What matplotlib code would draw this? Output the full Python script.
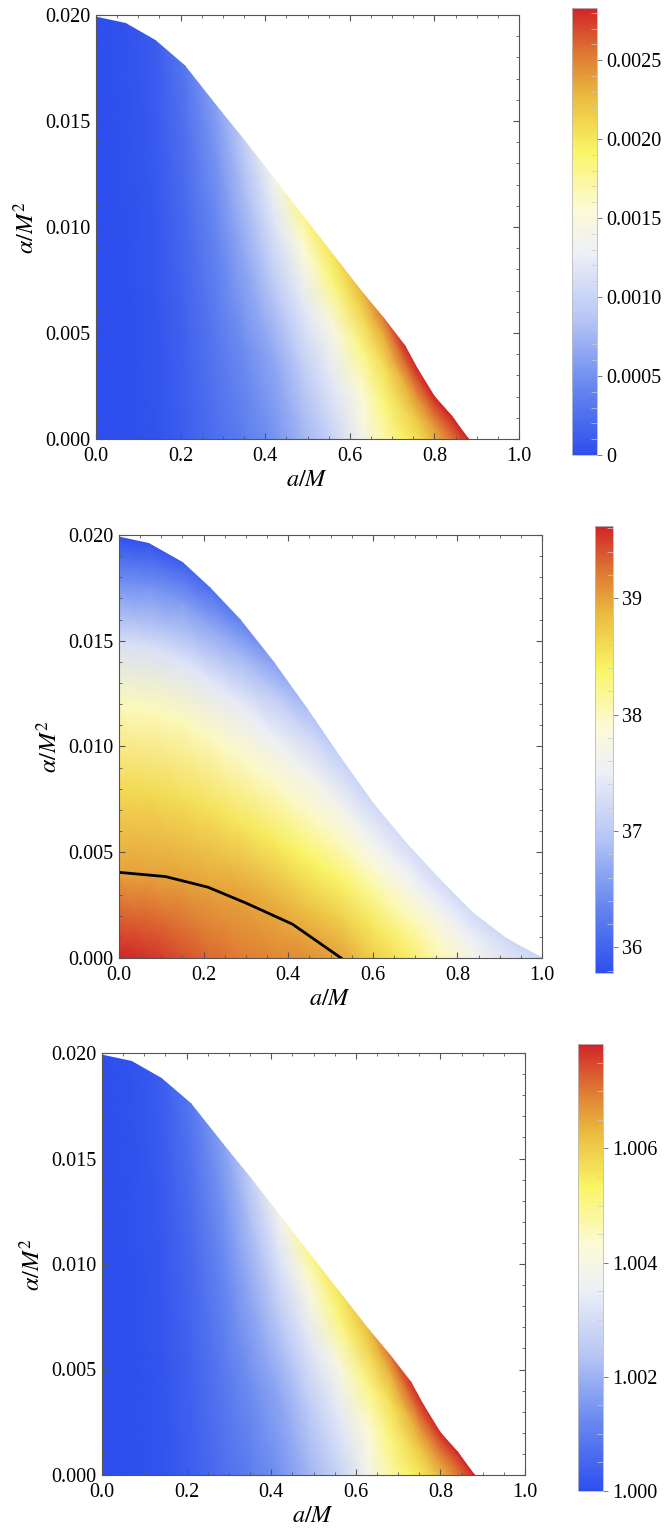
import numpy as np
import matplotlib

matplotlib.use("Agg")
import matplotlib.pyplot as plt  # noqa: E402
from matplotlib.colors import LinearSegmentedColormap  # noqa: E402
from matplotlib.ticker import MultipleLocator, FormatStrFormatter  # noqa: E402

plt.rcParams["font.family"] = "Liberation Serif"
plt.rcParams["mathtext.fontset"] = "stix"

W, H = 667, 1537

# ---- allowed region for panels 1 and 3: spin and largest alpha/M^2 there ----
spin_edge = [0.0, 0.07, 0.14, 0.21, 0.285, 0.35, 0.42, 0.49, 0.56, 0.63,
             0.68, 0.73, 0.76, 0.80, 0.84, 0.88]
alpha_edge = [0.0199, 0.0196, 0.0188, 0.0176, 0.0157, 0.0141, 0.0123, 0.0105,
              0.0087, 0.0069, 0.0057, 0.0044, 0.0033, 0.0020, 0.0011, 0.0]
# fraction of the way from alpha = 0 up to the edge
frac_13 = [0.0, 0.3, 0.6, 0.85, 1.0]

# panel 1 values (units of 1e-3), one row per spin_edge entry
dev_top = [
    [0.00, 0.00, 0.00, 0.00, 0.00],
    [0.01, 0.01, 0.02, 0.03, 0.03],
    [0.04, 0.05, 0.07, 0.09, 0.10],
    [0.12, 0.15, 0.20, 0.26, 0.30],
    [0.25, 0.32, 0.42, 0.52, 0.60],
    [0.35, 0.47, 0.65, 0.82, 0.95],
    [0.50, 0.65, 0.92, 1.18, 1.38],
    [0.75, 0.92, 1.20, 1.52, 1.80],
    [1.00, 1.20, 1.47, 1.85, 2.02],
    [1.40, 1.55, 1.82, 2.12, 2.28],
    [1.70, 1.85, 2.05, 2.32, 2.55],
    [1.95, 2.10, 2.32, 2.62, 2.80],
    [2.05, 2.22, 2.45, 2.68, 2.81],
    [2.30, 2.42, 2.58, 2.72, 2.82],
    [2.55, 2.62, 2.70, 2.77, 2.83],
    [2.83, 2.83, 2.83, 2.83, 2.83],
]

# panel 3 values minus one (units of 1e-3)
ratio_bottom = [
    [0.00, 0.00, 0.00, 0.00, 0.00],
    [0.03, 0.03, 0.05, 0.08, 0.08],
    [0.11, 0.14, 0.19, 0.25, 0.28],
    [0.33, 0.41, 0.55, 0.72, 0.83],
    [0.69, 0.88, 1.16, 1.43, 1.65],
    [0.96, 1.29, 1.79, 2.26, 2.61],
    [1.38, 1.79, 2.53, 3.25, 3.80],
    [2.06, 2.53, 3.30, 4.18, 4.95],
    [2.75, 3.30, 4.04, 5.09, 5.56],
    [3.85, 4.26, 5.00, 5.83, 6.27],
    [4.68, 5.09, 5.64, 6.38, 7.01],
    [5.36, 5.78, 6.38, 7.20, 7.70],
    [5.64, 6.10, 6.74, 7.37, 7.73],
    [6.33, 6.65, 7.10, 7.48, 7.76],
    [7.01, 7.20, 7.43, 7.62, 7.78],
    [7.78, 7.78, 7.78, 7.78, 7.78],
]

# ---- panel 2: its own allowed region ----
spin_edge2 = [0.0, 0.07, 0.15, 0.215, 0.286, 0.365, 0.444, 0.5225, 0.601,
              0.68, 0.759, 0.838, 0.917, 1.0]
alpha_edge2 = [0.0199, 0.0196, 0.0187, 0.0175, 0.0160, 0.0140, 0.0118,
               0.0095, 0.0073, 0.0054, 0.0037, 0.0021, 0.0009, 0.0]
frac_2 = [0.0, 0.2, 0.4, 0.6, 0.75, 0.9, 1.0]

size_mid = [
    [39.62, 39.00, 38.60, 38.00, 37.30, 36.40, 35.80],
    [39.55, 39.00, 38.60, 38.00, 37.30, 36.45, 35.85],
    [39.42, 38.98, 38.58, 38.00, 37.35, 36.55, 35.95],
    [39.30, 38.97, 38.55, 37.98, 37.40, 36.65, 36.10],
    [39.20, 38.97, 38.50, 37.95, 37.45, 36.80, 36.30],
    [39.15, 38.90, 38.45, 37.95, 37.50, 37.00, 36.60],
    [39.10, 38.80, 38.40, 37.95, 37.60, 37.20, 36.90],
    [39.00, 38.70, 38.35, 37.95, 37.65, 37.30, 37.10],
    [38.70, 38.50, 38.20, 37.85, 37.60, 37.35, 37.20],
    [38.45, 38.25, 38.00, 37.75, 37.55, 37.35, 37.25],
    [38.05, 37.95, 37.80, 37.60, 37.45, 37.30, 37.25],
    [37.65, 37.60, 37.50, 37.42, 37.35, 37.28, 37.22],
    [37.35, 37.33, 37.30, 37.28, 37.25, 37.22, 37.20],
    [37.15, 37.15, 37.15, 37.15, 37.15, 37.15, 37.15],
]

# 39 level in panel 2
level_spin = [0.0, 0.11, 0.21, 0.30, 0.41, 0.525]
level_alpha = [0.00405, 0.00385, 0.00335, 0.0026, 0.0016, 0.0]

temperature = LinearSegmentedColormap.from_list("temperature", [
    (0.00, (0.18, 0.31, 0.93)),
    (0.15, (0.40, 0.53, 0.94)),
    (0.30, (0.71, 0.77, 0.96)),
    (0.45, (0.93, 0.94, 0.97)),
    (0.55, (0.99, 0.98, 0.84)),
    (0.68, (0.98, 0.96, 0.40)),
    (0.80, (0.92, 0.74, 0.25)),
    (0.90, (0.87, 0.47, 0.20)),
    (1.00, (0.82, 0.14, 0.16)),
])

FRAME = "#555555"


def rect(left, top, right, bottom):
    return [left / W, 1 - bottom / H, (right - left) / W, (bottom - top) / H]


def draw_panel(fig, ax_box, cb_box, spin, edge, frac, vals, scale, offset,
               vmin, vmax, cticks, clabels, cminor):
    ax = fig.add_axes(rect(*ax_box))
    cax = fig.add_axes(rect(*cb_box))
    X = np.tile(np.asarray(spin), (len(frac), 1))
    Y = np.outer(frac, edge)
    C = offset + np.asarray(vals).T * scale
    mesh = ax.pcolormesh(X, Y, C, shading="gouraud", cmap=temperature,
                         vmin=vmin, vmax=vmax, rasterized=True)
    ax.set_xlim(0, 1)
    ax.set_ylim(0, 0.02)
    ax.xaxis.set_major_locator(MultipleLocator(0.2))
    ax.xaxis.set_minor_locator(MultipleLocator(0.05))
    ax.yaxis.set_major_locator(MultipleLocator(0.005))
    ax.yaxis.set_minor_locator(MultipleLocator(0.001))
    ax.xaxis.set_major_formatter(FormatStrFormatter("%.1f"))
    ax.yaxis.set_major_formatter(FormatStrFormatter("%.3f"))
    ax.tick_params(which="both", direction="in", top=True, right=True,
                   color=FRAME, labelsize=14.5)
    ax.tick_params(which="major", length=4.5, width=0.8)
    ax.tick_params(which="minor", length=2.5, width=0.6)
    ax.tick_params(axis="y", pad=4)
    ax.tick_params(axis="x", pad=6)
    for s in ax.spines.values():
        s.set_color(FRAME)
        s.set_linewidth(0.8)
    ax.set_xlabel(r"$a/M$", fontsize=17.5, labelpad=3)
    ax.set_ylabel(r"$\alpha/M^2$", fontsize=17.5, labelpad=4)

    cb = fig.colorbar(mesh, cax=cax)
    cb.outline.set_edgecolor("#bbbbbb")
    cb.outline.set_linewidth(0.6)
    cb.set_ticks(cticks)
    cb.set_ticklabels(clabels)
    cax.yaxis.set_minor_locator(MultipleLocator(cminor))
    cax.tick_params(which="major", direction="out", length=3.5, width=0.7,
                    color="#777777", labelsize=14.5, pad=3)
    cax.tick_params(which="minor", direction="in", length=4, width=0.5,
                    color="#cccccc")
    return ax


fig = plt.figure(figsize=(W / 100, H / 100), dpi=100)

draw_panel(fig, (96, 15, 519, 439), (572, 8, 597, 455),
           spin_edge, alpha_edge, frac_13, dev_top, 1e-3, 0.0,
           0.0, 0.00283,
           [0, 0.0005, 0.0010, 0.0015, 0.0020, 0.0025],
           ["0", "0.0005", "0.0010", "0.0015", "0.0020", "0.0025"], 0.0001)

ax2 = draw_panel(fig, (119, 535, 542, 958), (595, 526, 613, 973),
                 spin_edge2, alpha_edge2, frac_2, size_mid, 1.0, 0.0,
                 35.78, 39.62, [36, 37, 38, 39], ["36", "37", "38", "39"], 0.2)
ax2.plot(level_spin, level_alpha, color="black", lw=2.0)

draw_panel(fig, (102, 1053, 525, 1475), (578, 1044, 603, 1491),
           spin_edge, alpha_edge, frac_13, ratio_bottom, 1e-3, 1.0,
           1.0, 1.00783, [1.000, 1.002, 1.004, 1.006],
           ["1.000", "1.002", "1.004", "1.006"], 0.0005)

fig.savefig("out.png", dpi=100)
